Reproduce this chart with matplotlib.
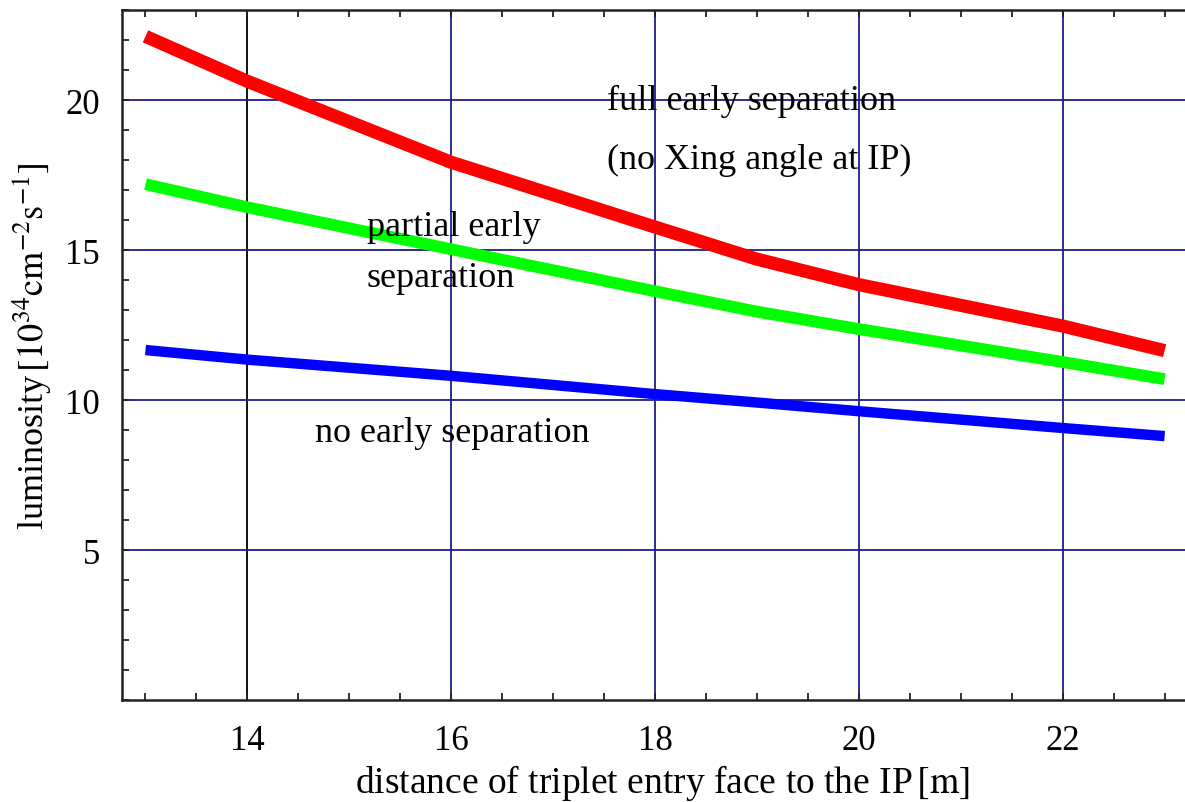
import matplotlib
matplotlib.use('Agg')
import matplotlib.pyplot as plt
from matplotlib.ticker import MultipleLocator, FixedLocator

# values
x_pts = [13, 14, 16, 18, 19, 20, 22, 23]
full_sep = [22.13, 20.63, 17.93, 15.77, 14.70, 13.85, 12.47, 11.65]
partial_sep = [17.20, 16.43, 15.03, 13.63, 12.95, 12.37, 11.27, 10.70]
no_sep = [11.67, 11.35, 10.81, 10.20, 9.92, 9.63, 9.07, 8.80]

x_ticks = [14, 16, 18, 20, 22]
y_ticks = [5, 10, 15, 20]

plt.rcParams['font.family'] = ['Liberation Serif', 'DejaVu Serif']
plt.rcParams['mathtext.fontset'] = 'stix'

fig = plt.figure(figsize=(11.85, 8.03), dpi=100)
ax = fig.add_axes([0.103, 0.127, 0.897, 0.859])

navy = '#1c1c8c'
for gx in x_ticks:
    ax.axvline(gx, color='black' if gx == 14 else navy, linewidth=1.3, zorder=1)
for gy in y_ticks:
    ax.axhline(gy, color=navy, linewidth=1.3, zorder=1)

ax.plot(x_pts, full_sep, color='#ff0000', linewidth=9.5, solid_capstyle='butt', zorder=3)
ax.plot(x_pts, partial_sep, color='#00ff00', linewidth=8.5, solid_capstyle='butt', zorder=3)
ax.plot(x_pts, no_sep, color='#0000ff', linewidth=7.5, solid_capstyle='butt', zorder=3)

ax.set_xlim(12.77, 23.2)
ax.set_ylim(0, 23)

ax.xaxis.set_major_locator(FixedLocator(x_ticks))
ax.yaxis.set_major_locator(FixedLocator(y_ticks))
ax.xaxis.set_minor_locator(MultipleLocator(0.5))
ax.yaxis.set_minor_locator(MultipleLocator(1))
ax.tick_params(which='both', direction='in', top=True, right=False,
               labelsize=25, width=1.3, color='#222222', length=5)
ax.tick_params(axis='x', pad=17)
ax.tick_params(axis='y', pad=16)

for s in ['left', 'bottom', 'top']:
    ax.spines[s].set_linewidth(1.8)
    ax.spines[s].set_color('#222222')
ax.spines['right'].set_visible(False)

txt = dict(fontsize=26, color='black', zorder=4)
ax.text(17.53, 20.0, 'full early separation', ha='left', va='center', **txt)
ax.text(17.53, 18.03, '(no Xing angle at IP)', ha='left', va='center', **txt)
ax.text(15.17, 15.8, 'partial early', ha='left', va='center', **txt)
ax.text(15.17, 14.1, 'separation', ha='left', va='center', **txt)
ax.text(14.66, 8.93, 'no early separation', ha='left', va='center', **txt)

ax.set_xlabel('distance of triplet entry face to the IP$\\,[\\mathrm{m}]$', fontsize=27)
ax.xaxis.set_label_coords(0.508, -0.09)
ax.set_ylabel('luminosity$\\,[10^{34}\\mathrm{cm}^{-2}\\mathrm{s}^{-1}]$', fontsize=26)
ax.yaxis.set_label_coords(-0.065, 0.515)

fig.savefig('out.png', dpi=100)
